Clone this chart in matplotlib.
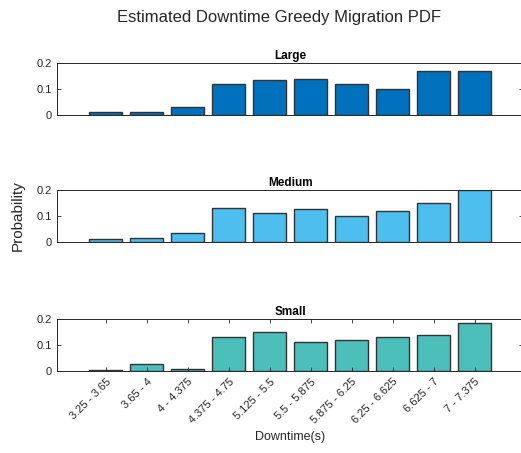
import matplotlib.pyplot as plt
import numpy as np

plt.rcParams['font.family'] = ['Liberation Sans', 'DejaVu Sans']

# Datos
rangos = ['3.25 - 3.65', '3.65 - 4', '4 - 4.375', '4.375 - 4.75', '5.125 - 5.5',
          '5.5 - 5.875', '5.875 - 6.25', '6.25 - 6.625', '6.625 - 7', '7 - 7.375']
large = [0.01, 0.01, 0.03, 0.12, 0.135, 0.14, 0.12, 0.10, 0.17, 0.17]
medium = [0.01, 0.015, 0.035, 0.13, 0.11, 0.125, 0.10, 0.12, 0.15, 0.20]
small = [0.005, 0.025, 0.008, 0.13, 0.15, 0.11, 0.12, 0.13, 0.14, 0.185]

series = [('Large', large, '#0072BD'),
          ('Medium', medium, '#4DBEEE'),
          ('Small', small, '#4DBFBA')]

fig = plt.figure(figsize=(5.21, 4.53), dpi=100)
x = np.arange(1, len(rangos) + 1)
gris = '#262626'

bottoms = [0.746, 0.466, 0.181]
for (nombre, valores, color), b in zip(series, bottoms):
    ax = fig.add_axes([0.110, b, 0.894, 0.115])
    ax.bar(x, valores, width=0.8, color=color, edgecolor='#333333', linewidth=1.0)
    ax.set_xlim(-0.18, 11.18)
    ax.set_ylim(0, 0.2)
    ax.set_yticks([0, 0.1, 0.2])
    ax.set_yticklabels(['0', '0.1', '0.2'])
    ax.set_title(nombre, fontsize=8.5, fontweight='bold', color='black', pad=3)
    for s in ax.spines.values():
        s.set_color(gris)
        s.set_linewidth(0.7)
    ax.tick_params(axis='y', direction='in', length=3, width=0.6, colors=gris,
                   labelsize=8, right=True, pad=4)
    if nombre == 'Small':
        ax.set_xticks(x)
        ax.set_xticklabels(rangos, rotation=45, ha='right', rotation_mode='anchor')
        ax.tick_params(axis='x', direction='in', length=3, width=0.6, colors=gris,
                       labelsize=8, top=True, pad=4)
        ax.set_xlabel('Downtime(s)', fontsize=9, color=gris, labelpad=4)
    else:
        ax.set_xticks([])

fig.text(0.535, 0.962, 'Estimated Downtime Greedy Migration PDF', ha='center',
         va='center', fontsize=12, color=gris)
fig.text(0.035, 0.525, 'Probability', rotation=90, ha='center', va='center',
         fontsize=11, color=gris)

plt.savefig('out.png', dpi=100)
